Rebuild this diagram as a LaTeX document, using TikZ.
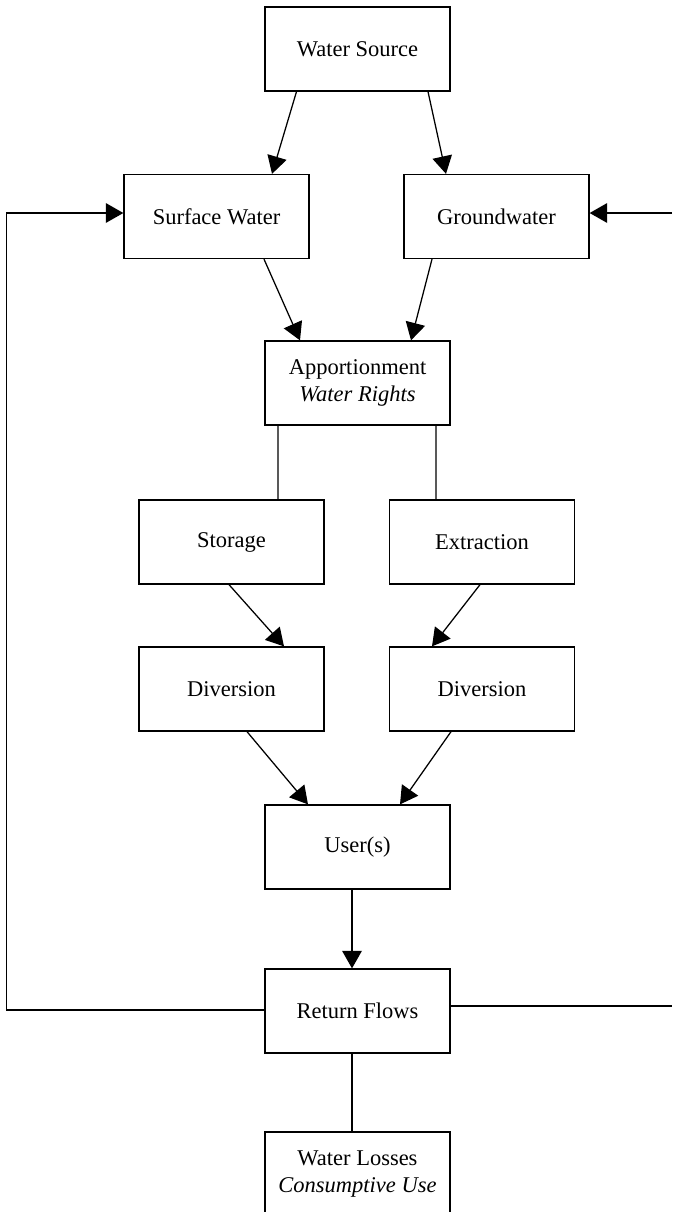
\documentclass[tikz,border=0pt]{standalone}
\usepackage{fontspec}
\setmainfont{Liberation Serif}
\usetikzlibrary{arrows.meta,calc,positioning}

\begin{document}
\begin{tikzpicture}[x=0.025cm,y=-0.025cm,>={Triangle[length=12.5pt,width=14pt]},
    font=\fontsize{16}{19.5}\selectfont,
    box/.style={draw,line width=0.9pt,minimum width=4.625cm,minimum height=2.1cm,
                align=center,inner sep=0pt},
    flow/.style={->,line width=0.9pt},
    link/.style={line width=0.9pt}]
  \useasboundingbox (0,0) rectangle (672,1212);
  % boxes
  \node[box] (src) at (357.5,49)   {Water Source};
  \node[box] (sw)  at (216.5,216.5) {Surface Water};
  \node[box] (gw)  at (496.5,216.5) {Groundwater};
  \node[box] (app) at (357.5,383)  {Apportionment\\\textit{Water Rights}};
  \node[box] (sto) at (231.5,542)  {Storage};
  \node[box] (ext) at (482,542)    {Extraction};
  \node[box] (dvl) at (231.5,689)  {Diversion};
  \node[box] (dvr) at (482,689)    {Diversion};
  \node[box] (usr) at (357.5,847)  {User(s)};
  \node[box] (ret) at (357.5,1011) {Return Flows};
  \node[box] (los) at (357.5,1174) {Water Losses\\\textit{Consumptive Use}};
  % connectors
  \draw[flow] ($(src.south)+(-61,0)$) -- ($(sw.north)+(55.5,0)$);
  \draw[flow] ($(src.south)+(70.5,0)$) -- ($(gw.north)+(-50.5,0)$);
  \draw[flow] ($(sw.south)+(47.5,0)$) -- ($(app.north)+(-57.5,0)$);
  \draw[flow] ($(gw.south)+(-64.5,0)$) -- ($(app.north)+(53.5,0)$);
  \draw[link] ($(app.south)+(-79.5,0)$) -- ($(sto.north)+(46.5,0)$);
  \draw[link] ($(app.south)+(78.5,0)$) -- ($(ext.north)+(-46,0)$);
  \draw[flow] ($(sto.south)+(-2.5,0)$) -- ($(dvl.north)+(52.5,0)$);
  \draw[flow] ($(ext.south)+(-2,0)$) -- ($(dvr.north)+(-50,0)$);
  \draw[flow] ($(dvl.south)+(15.5,0)$) -- ($(usr.north)+(-49.5,0)$);
  \draw[flow] ($(dvr.south)+(-31,0)$) -- ($(usr.north)+(42.5,0)$);
  \draw[flow] ($(usr.south)+(-5.5,0)$) -- ($(ret.north)+(-5.5,0)$);
  \draw[link] ($(ret.south)+(-5.5,0)$) -- ($(los.north)+(-5.5,0)$);
  % return loops
  \coordinate (lb) at (6.5,1010);
  \coordinate (lt) at (6.5,213);
  \coordinate (rb) at (672,1006);
  \coordinate (rt) at (672,213);
  \draw[flow] (ret.west |- lb) -- (lb) -- (lt) -- (lt -| sw.west);
  \draw[link] (ret.east |- rb) -- (rb);
  \draw[flow] (rt) -- (rt -| gw.east);
\end{tikzpicture}
\end{document}
